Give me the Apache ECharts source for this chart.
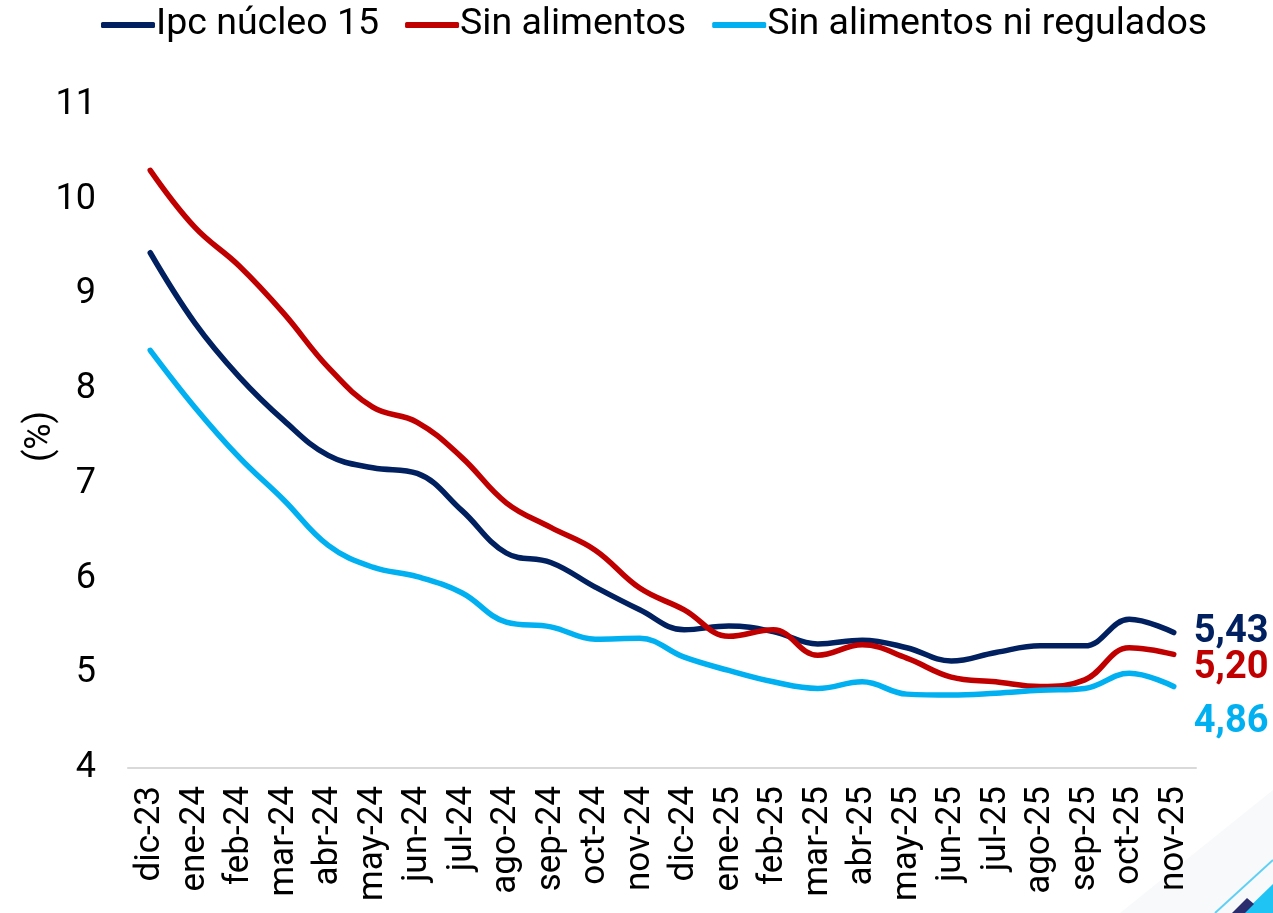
<!DOCTYPE html>
<html>
<head>
    <meta charset="utf-8">
    <script type="text/javascript" src="https://cdn.jsdelivr.net/npm/echarts@6/dist/echarts.min.js"></script>
    <style>
        html, body { margin: 0; padding: 0; background: #fff; }
    </style>
</head>
<body>

<div id="main" style="width: 1273px;height:913px;"></div>

<script type="text/javascript">

    // categorías (meses)
    var meses = ['dic-23', 'ene-24', 'feb-24', 'mar-24', 'abr-24', 'may-24', 'jun-24', 'jul-24',
        'ago-24', 'sep-24', 'oct-24', 'nov-24', 'dic-24', 'ene-25', 'feb-25', 'mar-25', 'abr-25',
        'may-25', 'jun-25', 'jul-25', 'ago-25', 'sep-25', 'oct-25', 'nov-25'];

    // series (%)
    var ipcNucleo = [9.44, 8.70, 8.13, 7.67, 7.30, 7.17, 7.11, 6.72, 6.27, 6.17, 5.91, 5.67,
        5.46, 5.50, 5.44, 5.31, 5.35, 5.27, 5.13, 5.22, 5.29, 5.29, 5.57, 5.43];
    var sinAlimentos = [10.31, 9.71, 9.30, 8.80, 8.23, 7.81, 7.65, 7.28, 6.80, 6.54, 6.30, 5.90,
        5.67, 5.39, 5.46, 5.19, 5.30, 5.16, 4.96, 4.91, 4.86, 4.93, 5.27, 5.20];
    var sinAlimReg = [8.41, 7.81, 7.28, 6.83, 6.35, 6.12, 6.02, 5.85, 5.54, 5.49, 5.36, 5.37,
        5.17, 5.03, 4.91, 4.84, 4.91, 4.78, 4.77, 4.79, 4.82, 4.84, 5.00, 4.86];

    var nombres = ['Ipc núcleo 15', 'Sin alimentos', 'Sin alimentos ni regulados'];
    var colores = ['#002060', '#C00000', '#00B0F0'];

    var myChart = echarts.init(document.getElementById('main'));

    function serie(nombre, datos, color, offY) {
        return {
            name: nombre,
            type: 'line',
            smooth: 0.4,
            symbol: 'none',
            data: datos,
            lineStyle: { width: 5.5, color: color, cap: 'round' },
            itemStyle: { color: color },
            endLabel: {
                show: true,
                offset: [12, offY],
                color: color,
                fontFamily: 'Roboto',
                fontWeight: 'bold',
                fontSize: 38,
                formatter: function (p) {
                    return p.value.toFixed(2).replace('.', ',');
                }
            }
        };
    }

    var option = {
        animation: false,
        textStyle: { fontFamily: 'Roboto' },
        legend: {
            top: 1,
            left: 96,
            itemWidth: 54,
            itemHeight: 6,
            itemGap: 26,
            icon: 'roundRect',
            data: nombres,
            textStyle: { fontSize: 37.5, color: '#000', fontFamily: 'Roboto', padding: [0, 0, 0, -4] }
        },
        grid: { left: 128, right: 77, top: 105, bottom: 145 },
        xAxis: {
            type: 'category',
            data: meses,
            boundaryGap: true,
            axisLine: { lineStyle: { color: '#d9d9d9', width: 2 } },
            axisTick: { show: false },
            axisLabel: { rotate: 90, fontSize: 35, color: '#000', margin: 18, interval: 0 }
        },
        yAxis: {
            type: 'value',
            min: 4,
            max: 11,
            interval: 1,
            name: '(%)',
            nameLocation: 'middle',
            nameGap: 69,
            nameRotate: 90,
            nameMoveOverlap: false,
            nameTextStyle: { fontSize: 36, color: '#000' },
            splitLine: { show: false },
            axisLine: { show: false },
            axisTick: { show: false },
            axisLabel: { fontSize: 36, color: '#000', margin: 32 }
        },
        graphic: [
            { type: 'polygon', shape: { points: [[1120, 913], [1273, 790], [1273, 913]] }, style: { fill: '#f8f9fa' }, silent: true },
            { type: 'line', shape: { x1: 1215, y1: 913, x2: 1273, y2: 860 }, style: { stroke: '#5fd0f5', lineWidth: 2 }, silent: true },
            { type: 'polygon', shape: { points: [[1243, 913], [1273, 884], [1273, 913]] }, style: { fill: '#1fc4f5' }, silent: true },
            { type: 'polygon', shape: { points: [[1232, 913], [1247, 898], [1254, 904], [1245, 913]] }, style: { fill: '#2b2d6e' }, silent: true }
        ],
        series: [
            serie(nombres[0], ipcNucleo, colores[0], 0),
            serie(nombres[1], sinAlimentos, colores[1], 14),
            serie(nombres[2], sinAlimReg, colores[2], 36)
        ]
    };

    myChart.setOption(option);
</script>

</body>
</html>
